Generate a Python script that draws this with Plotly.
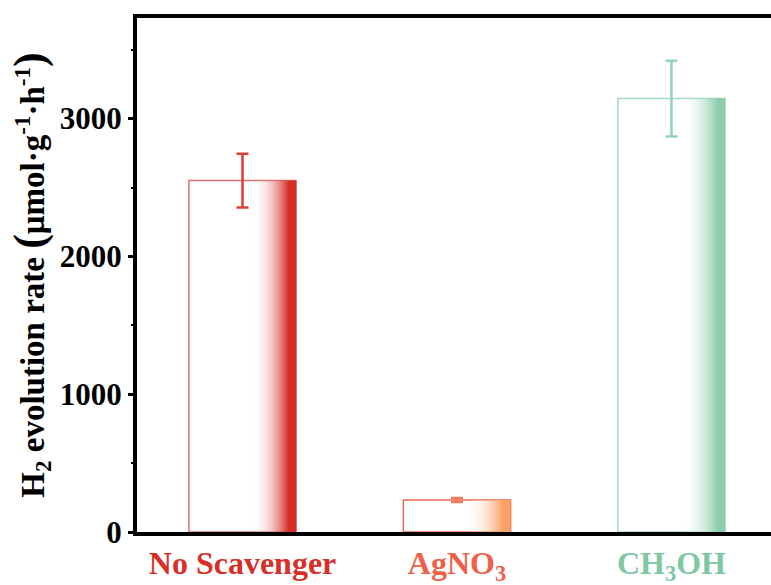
import plotly.graph_objects as go

# Photocatalytic H2 evolution with different sacrificial scavengers
categories = ["No Scavenger", "AgNO<sub>3</sub>", "CH<sub>3</sub>OH"]
rates = [2550, 232, 3145]
errors = [195, 15, 275]

label_colors = ["rgb(214,48,40)", "rgb(238,96,72)", "rgb(126,200,164)"]
outline_colors = ["rgb(226,112,110)", "rgb(238,104,80)", "rgb(164,216,192)"]
grad_colors = ["rgb(214,46,38)", "rgb(247,160,100)", "rgb(140,206,172)"]
err_colors = ["rgb(222,62,58)", "rgb(240,120,95)", "rgb(150,210,182)"]

FONT = "Liberation Serif, Times New Roman, serif"
bar_w = 0.5
xs = list(range(len(categories)))

fig = go.Figure()

for i, (x, v, e) in enumerate(zip(xs, rates, errors)):
    # hollow bar with coloured outline and error bar
    fig.add_trace(go.Bar(
        x=[x], y=[v], width=bar_w,
        marker=dict(color="white", line=dict(color=outline_colors[i], width=1.5)),
        error_y=dict(type="data", array=[e], color=err_colors[i], thickness=2.5, width=6),
        showlegend=False, hoverinfo="skip",
    ))
    # gradient band on the right-hand side of the bar
    gx0 = x + 0.045
    gx1 = x + bar_w / 2
    fig.add_trace(go.Scatter(
        x=[gx0, gx1, gx1, gx0, gx0], y=[0, 0, v, v, 0],
        mode="lines", line=dict(width=0), fill="toself",
        fillgradient=dict(type="horizontal",
                          colorscale=[[0, "rgba(255,255,255,0)"], [1, grad_colors[i]]],
                          start=gx0, stop=x + 0.215),
        showlegend=False, hoverinfo="skip",
    ))

ticktext = [f'<span style="color:{c}">{t}</span>' for t, c in zip(categories, label_colors)]

fig.update_layout(
    width=771, height=585,
    margin=dict(l=137, r=0, t=18, b=53),
    paper_bgcolor="white", plot_bgcolor="white",
    barmode="overlay",
    font=dict(family=FONT, size=31, color="black"),
    xaxis=dict(
        range=[-0.492, 2.464], tickvals=xs, ticktext=ticktext,
        showline=True, linecolor="black", linewidth=4, mirror=True,
        ticks="", showgrid=False, zeroline=False,
        tickfont=dict(family=FONT, size=32, weight="bold"),
    ),
    yaxis=dict(
        range=[0, 3730], tickvals=[0, 1000, 2000, 3000],
        showline=True, linecolor="black", linewidth=4,
        ticks="outside", ticklen=5, tickwidth=3, tickcolor="black",
        minor=dict(ticks="outside", ticklen=2, tickwidth=2, dtick=500, tickcolor="black"),
        showgrid=False, zeroline=False,
        tickfont=dict(family=FONT, size=31, weight="bold"),
        title=dict(
            text='H<sub>2</sub> evolution rate <span style="font-size:44px">(</span>μmol·g<sup>-1</sup>·h<sup>-1</sup><span style="font-size:44px">)</span>',
            font=dict(family=FONT, size=33, weight="bold"),
            standoff=6,
        ),
    ),
)

fig.write_html("out.html")
